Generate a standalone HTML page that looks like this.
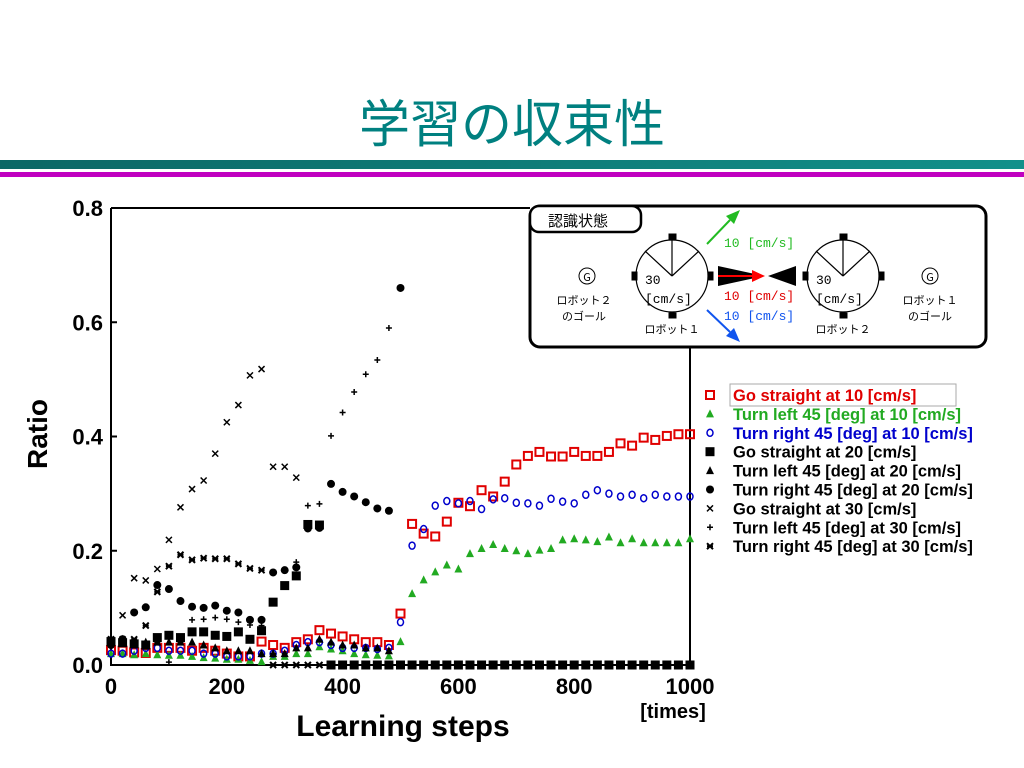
<!DOCTYPE html>
<html><head><meta charset="utf-8"><style>
body{margin:0;width:1024px;height:768px;background:#fff;overflow:hidden;position:relative;font-family:"Liberation Sans","Noto Sans CJK JP",sans-serif}
#title{position:absolute;left:0;width:1024px;top:88px;text-align:center;font-size:51px;color:#008080;font-family:"Noto Sans CJK JP",sans-serif;line-height:64px}
#bar1{position:absolute;left:0;top:160px;width:1024px;height:9px;background:linear-gradient(90deg,#0b6765,#12908a)}
#bar2{position:absolute;left:0;top:172px;width:1024px;height:5px;background:#c000c0}
svg{position:absolute;left:0;top:0}
</style></head><body>
<div id="title">学習の収束性</div>
<div id="bar1"></div>
<div id="bar2"></div>
<svg id="chart" width="1024" height="768" font-family="Liberation Sans, Noto Sans CJK JP, sans-serif"></svg>
<script>
const steps=[0,20,40,60,80,100,120,140,160,180,200,220,240,260,280,300,320,340,360,380,400,420,440,460,480,500,520,540,560,580,600,620,640,660,680,700,720,740,760,780,800,820,840,860,880,900,920,940,960,980,1000];
const yTicks=[0.0,0.2,0.4,0.6,0.8];
const yTickLabels=["0.0","0.2","0.4","0.6","0.8"];
const xTicks=[0,200,400,600,800,1000];
const goStraight10=[0.026,0.025,0.022,0.021,0.03,0.03,0.03,0.025,0.03,0.025,0.02,0.015,0.015,0.041,0.035,0.03,0.04,0.045,0.061,0.055,0.05,0.045,0.04,0.04,0.035,0.09,0.247,0.23,0.225,0.251,0.284,0.278,0.306,0.295,0.321,0.351,0.366,0.373,0.365,0.365,0.373,0.366,0.366,0.373,0.388,0.384,0.398,0.394,0.401,0.404,0.404];
const turnLeft10=[0.02,0.02,0.018,0.02,0.018,0.017,0.017,0.015,0.013,0.012,0.01,0.01,0.008,0.006,0.015,0.015,0.02,0.02,0.032,0.028,0.025,0.02,0.018,0.017,0.016,0.041,0.125,0.149,0.163,0.175,0.168,0.195,0.204,0.211,0.204,0.2,0.195,0.201,0.204,0.219,0.221,0.219,0.216,0.224,0.214,0.221,0.214,0.214,0.214,0.214,0.221];
const turnRight10=[0.02,0.02,0.025,0.03,0.03,0.025,0.025,0.025,0.02,0.02,0.015,0.015,0.015,0.02,0.02,0.025,0.035,0.04,0.04,0.035,0.03,0.03,0.03,0.028,0.03,0.075,0.209,0.238,0.279,0.287,0.283,0.287,0.273,0.29,0.292,0.284,0.283,0.279,0.291,0.286,0.283,0.298,0.306,0.3,0.295,0.298,0.292,0.298,0.295,0.295,0.295];
const goStraight20=[0.041,0.039,0.037,0.035,0.048,0.052,0.048,0.058,0.058,0.052,0.05,0.058,0.045,0.06,0.11,0.139,0.156,0.246,0.245,0,0,0,0,0,0,0,0,0,0,0,0,0,0,0,0,0,0,0,0,0,0,0,0,0,0,0,0,0,0,0,0];
const turnLeft20=[0.045,0.045,0.04,0.04,0.04,0.04,0.04,0.04,0.035,0.03,0.025,0.025,0.025,0.02,0.02,0.02,0.03,0.03,0.045,0.04,0.035,0.035,0.03,0.03,0.025,0,0,0,0,0,0,0,0,0,0,0,0,0,0,0,0,0,0,0,0,0,0,0,0,0,0];
const turnRight20=[0.035,0.045,0.092,0.101,0.14,0.133,0.112,0.102,0.1,0.104,0.095,0.092,0.079,0.079,0.162,0.166,0.171,0.239,0.24,0.317,0.303,0.295,0.285,0.274,0.27,0.66,0,0,0,0,0,0,0,0,0,0,0,0,0,0,0,0,0,0,0,0,0,0,0,0,0];
const goStraight30=[0.045,0.087,0.152,0.148,0.168,0.219,0.276,0.308,0.323,0.37,0.425,0.455,0.507,0.518,0.347,0.347,0.328,0,0,0,0,0,0,0,0,0,0,0,0,0,0,0,0,0,0,0,0,0,0,0,0,0,0,0,0,0,0,0,0,0,0];
const turnLeft30=[0.045,0.04,0.04,0.035,0.04,0.005,0.04,0.079,0.08,0.083,0.08,0.075,0.07,0.069,0.02,0.02,0.18,0.279,0.282,0.401,0.442,0.478,0.509,0.534,0.59,0,0,0,0,0,0,0,0,0,0,0,0,0,0,0,0,0,0,0,0,0,0,0,0,0,0];
const turnRight30=[0.045,0.045,0.045,0.069,0.128,0.173,0.193,0.184,0.187,0.186,0.186,0.177,0.169,0.166,0,0,0,0,0,0,0,0,0,0,0,0,0,0,0,0,0,0,0,0,0,0,0,0,0,0,0,0,0,0,0,0,0,0,0,0,0];
const seriesNames=["Go straight at 10 [cm/s]","Turn left 45 [deg] at 10 [cm/s]","Turn right 45 [deg] at 10 [cm/s]","Go straight at 20 [cm/s]","Turn left 45 [deg] at 20 [cm/s]","Turn right 45 [deg] at 20 [cm/s]","Go straight at 30 [cm/s]","Turn left 45 [deg] at 30 [cm/s]","Turn right 45 [deg] at 30 [cm/s]"];
const seriesData=[goStraight10,turnLeft10,turnRight10,goStraight20,turnLeft20,turnRight20,goStraight30,turnLeft30,turnRight30];
const seriesColors=["#e00000","#22aa22","#0000cc","#000","#000","#000","#000","#000","#000"];
const seriesShapes=["osq","tri","ocirc","sq","tri","circ","x","plus","xb"];

const NS="http://www.w3.org/2000/svg";
const svg=document.getElementById('chart');
const X0=111,X1=690,Y0=665,Y1=208;
const xs=v=>X0+(v/1000)*(X1-X0);
const ys=v=>Y0-(v/0.8)*(Y0-Y1);
function mk(tag,attrs,parent){const e=document.createElementNS(NS,tag);for(const k in attrs)e.setAttribute(k,attrs[k]);(parent||svg).appendChild(e);return e;}
function marker(shape,x,y,c,g){
  let e;
  if(shape==="osq")e=mk('rect',{x:x-4,y:y-4,width:8,height:8,fill:'none',stroke:c,'stroke-width':2},g);
  else if(shape==="sq")e=mk('rect',{x:x-4.5,y:y-4.5,width:9,height:9,fill:c},g);
  else if(shape==="tri")e=mk('polygon',{points:`${x},${y-4.5} ${x-4},${y+3.5} ${x+4},${y+3.5}`,fill:c},g);
  else if(shape==="ocirc")e=mk('ellipse',{cx:x,cy:y,rx:3,ry:3.5,fill:'none',stroke:c,'stroke-width':1.5},g);
  else if(shape==="circ")e=mk('circle',{cx:x,cy:y,r:4,fill:c},g);
  else if(shape==="plus")e=mk('path',{d:`M${x-3},${y}H${x+3}M${x},${y-3}V${y+3}`,stroke:c,'stroke-width':1.5},g);
  else if(shape==="x")e=mk('path',{d:`M${x-3},${y-3}L${x+3},${y+3}M${x+3},${y-3}L${x-3},${y+3}`,stroke:c,'stroke-width':1.5},g);
  else e=mk('path',{d:`M${x-3},${y-3}L${x+3},${y+3}M${x+3},${y-3}L${x-3},${y+3}M${x-3},${y}H${x+3}`,stroke:c,'stroke-width':2},g);
  return e;
}
const ax=mk('path',{d:`M${X0},${Y1}V${Y0}H${X1}V348M${X0},${Y1}H530`,stroke:'#000','stroke-width':2,fill:'none'});


yTicks.forEach((t,i)=>{
  const y=ys(t);
  const tk=mk('line',{x1:X0,x2:X0+6,y1:y,y2:y,stroke:'#000','stroke-width':2});
  
  
  const tl=mk('text',{x:103,y:y+8,'text-anchor':'end','font-size':22,'font-weight':'bold'});
  tl.textContent=yTickLabels[i];
  
  
});
xTicks.forEach(t=>{
  const tl=mk('text',{x:xs(t),y:694,'text-anchor':'middle','font-size':22,'font-weight':'bold'});
  tl.textContent=String(t);
  
  
});
let t=mk('text',{x:403,y:736,'text-anchor':'middle','font-size':30,'font-weight':'bold'});t.textContent='Learning steps';


t=mk('text',{x:673,y:718,'text-anchor':'middle','font-size':20,'font-weight':'bold'});t.textContent='[times]';


t=mk('text',{x:0,y:0,'text-anchor':'middle','font-size':28,'font-weight':'bold',transform:'translate(47,434) rotate(-90)'});t.textContent='Ratio';


seriesData.forEach((arr,si)=>{
  const g=mk('g',{});
  
  
  arr.forEach((v,i)=>{
    const m=marker(seriesShapes[si],xs(steps[i]),ys(v),seriesColors[si],g);
    
    
  });
});
const lb=mk('rect',{x:730,y:384,width:226,height:22,fill:'none',stroke:'#aaa','stroke-width':1});


seriesNames.forEach((n,i)=>{
  const y=395+i*18.9;
  const g=mk('g',{});
  
  
  marker(seriesShapes[i],710,y,seriesColors[i],g);
  const tx=mk('text',{x:733,y:y+6,'font-size':16.5,'font-weight':'bold',fill:seriesColors[i]},g);
  tx.textContent=n;
});
</script>
<svg width="1024" height="768" font-family="Liberation Sans, Noto Sans CJK JP, sans-serif">
 <rect x="530" y="206" width="456" height="141" rx="10" fill="#fff" stroke="#000" stroke-width="3"/>
 <rect x="530" y="206" width="111" height="26" rx="9" fill="#fff" stroke="#000" stroke-width="2.5"/>
 <text x="548" y="226" font-size="15" font-family="Noto Sans CJK JP, sans-serif">認識状態</text>
 <g stroke="#000" fill="none">
  <circle cx="672" cy="276" r="36" stroke-width="1.2"/>
  <path d="M672,276V240M672,276L645,251M672,276L699,251" stroke-width="1.2"/>
  <rect x="669" y="234" width="7" height="5" fill="#000"/><rect x="669" y="313" width="7" height="5" fill="#000"/>
  <rect x="632" y="272" width="5" height="8" fill="#000"/><rect x="708" y="272" width="5" height="8" fill="#000"/>
 </g>
 <g stroke="#000" fill="none">
  <circle cx="843" cy="276" r="36" stroke-width="1.2"/>
  <path d="M843,276V240M843,276L816,251M843,276L870,251" stroke-width="1.2"/>
  <rect x="840" y="234" width="7" height="5" fill="#000"/><rect x="840" y="313" width="7" height="5" fill="#000"/>
  <rect x="803" y="272" width="5" height="8" fill="#000"/><rect x="879" y="272" width="5" height="8" fill="#000"/>
 </g>
 <polygon points="718,266 764,276 718,286" fill="#000"/>
 <polygon points="796,266 768,276 796,286" fill="#000"/>
 <path d="M718,276H752" stroke="red" stroke-width="2"/><polygon points="752,270 765,276 752,282" fill="red"/>
 <path d="M707,244L730,220" stroke="#22bb22" stroke-width="2"/><polygon points="740,210 726,216 734,224" fill="#22bb22"/>
 <path d="M707,310L730,332" stroke="#1155ee" stroke-width="2"/><polygon points="740,342 726,336 734,328" fill="#1155ee"/>
 <g font-size="13" font-family="Liberation Mono, monospace">
  <text x="724" y="247" fill="#22bb22">10 [cm/s]</text>
  <text x="724" y="300" fill="#e00000">10 [cm/s]</text>
  <text x="724" y="320" fill="#1155ee">10 [cm/s]</text>
  <text x="645" y="284" fill="#000">30</text><text x="645" y="303" fill="#000">[cm/s]</text>
  <text x="816" y="284" fill="#000">30</text><text x="816" y="303" fill="#000">[cm/s]</text>
 </g>
 <g font-size="11" font-family="Noto Sans CJK JP, sans-serif" fill="#000" text-anchor="middle">
  <circle cx="587" cy="276" r="8" fill="none" stroke="#000"/><text x="587" y="281">G</text>
  <circle cx="930" cy="276" r="8" fill="none" stroke="#000"/><text x="930" y="281">G</text>
  <text x="584" y="304">ロボット２</text><text x="584" y="320">のゴール</text>
  <text x="930" y="304">ロボット１</text><text x="930" y="320">のゴール</text>
  <text x="672" y="333">ロボット１</text>
  <text x="843" y="333">ロボット２</text>
 </g>
</svg>
</body></html>
